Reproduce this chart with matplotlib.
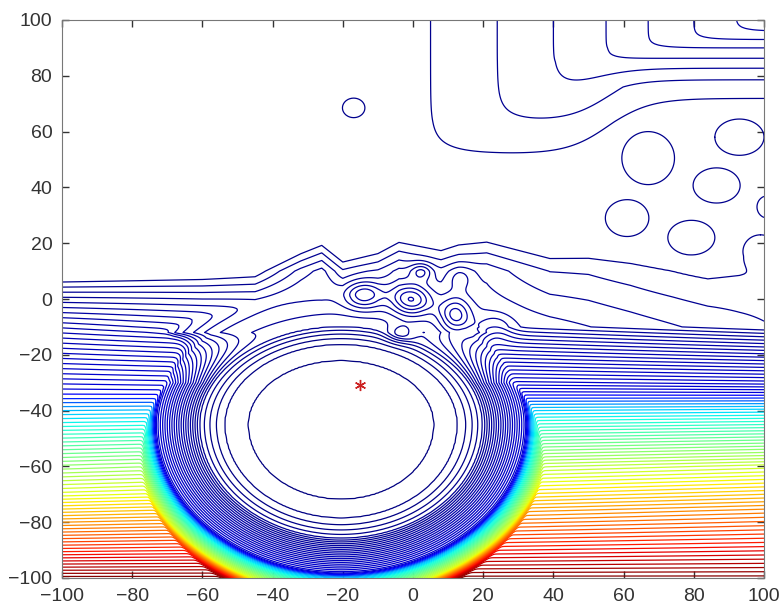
import numpy as np
import matplotlib.pyplot as plt

plt.rcParams['font.family'] = ['Liberation Sans', 'DejaVu Sans']

# level reached by the background field at the left / right edges
left_y = [7, -35, -45, -70, -90, -100]
left_lv = [0, 23, 30, 48, 65, 74]
right_y = [14, 4, -10, -30, -35, -40, -60, -76, -88, -100]
right_lv = [0, 0.8, 1.6, 18, 23, 28, 46, 58, 66, 74]

# how far the top edge of the background is pushed up along x
shift_x = [-100, -60, -45, -32, -26, -20, -10, -4, 8, 13, 21, 30, 39, 50, 62, 74, 84, 93, 100]
shift_y = [0, 1, 2, 10, 13, 7, 10, 14, 11, 13, 14, 11, 8, 8, 6, 3, 0, 1, 3]

# the big basin around the minimum: level vs normalised radius
bowl_x, bowl_y = -20.5, -45.0
bowl_ax, bowl_ay_top, bowl_ay_bot = 26.5, 23.0, 26.8
bowl_s = [0, 1, 1.25, 1.34, 1.41, 1.47, 1.52, 1.98, 2.09, 2.27, 2.36, 2.42, 3.5, 6]
bowl_lv = [-4.5, -3.5, -2.5, -1.5, -0.5, 0.5, 1.5, 20, 30, 48, 65, 74, 250, 800]
# the basin flattens towards its top (plateau under the cluster)
flat_y = [-100, -30, -12, 100]
flat_m = [1, 1, 0.12, 0.12]

# small local peaks around the origin
bump_x = [-14, -0.6, 12, -3.6, 2.4, 13.3, 23.4]
bump_y = [1.4, -0.4, -6, -12.4, 9.8, 7.7, -10.5]
bump_amp = [3.8, 4.5, 3.8, 2.2, 2.6, 1.6, 2.0]
bump_sx = [3.8, 3.9, 3.1, 2.8, 2.2, 2.8, 3.5]
bump_sy = [3.5, 3.9, 4.6, 2.3, 2.2, 3.2, 3.5]

# isolated rings (lattice on the right, lone ring up left): centre and radii
blob_x = [67, 61, 79.3, 86.5, 93, 101, 99, -16.9]
blob_y = [50.5, 29, 22, 40.7, 58, 33, 17, 68.5]
blob_rx = [7.5, 6.2, 6.7, 6.7, 7.0, 3.0, 5.0, 3.2]
blob_ry = [9.5, 6.6, 6.2, 6.3, 6.5, 4.0, 6.0, 3.5]

# ridge in the top right corner: level vs x along the top, level vs y along the right
ridge_x = [-100, -5, 5, 24, 40, 55, 67, 80, 92, 100]
ridge_xlv = [-5, -0.5, 0.5, 1.5, 2.5, 3.5, 4.5, 5.5, 6.5, 7.2]
ridge_y = [-100, 44, 52, 63.5, 74, 85, 90, 93, 96, 100]
ridge_ylv = [-5, -0.5, 0.5, 1.5, 2.5, 3.5, 4.5, 5.5, 6.5, 7.8]

# colour position (0..1 on jet) per level
col_lv = [-4, 22, 26, 30, 48, 65, 74]
col_c = [0.0, 0.08, 0.3, 0.375, 0.625, 0.875, 1.0]

star_x, star_y = -15, -31

x = np.linspace(-100, 100, 401)
y = np.linspace(-100, 100, 401)
X, Y = np.meshgrid(x, y)

# background: horizontal bands, blended between the two edge profiles
w = (X + 100) / 200
sh = np.interp(X, shift_x, shift_y) * np.clip((Y + 10) / 20, 0, 1)
Ys = Y - sh
FL = np.interp(-Ys, -np.array(left_y), left_lv)
FR = np.interp(-Ys, -np.array(right_y), right_lv)
F = (1 - w) * FL + w * FR

# basin
ay = np.where(Y > bowl_y, bowl_ay_top, bowl_ay_bot)
s = np.hypot((X - bowl_x) / bowl_ax, (Y - bowl_y) / ay)
B = np.interp(s, bowl_s, bowl_lv)
m = np.interp(Y, flat_y, flat_m)
B = np.where(s > 1.52, 1.5 + (B - 1.5) * m, B)

k = 0.8
Z = -k * np.logaddexp(-F / k, -B / k)

for bx, by, a, sx, sy in zip(bump_x, bump_y, bump_amp, bump_sx, bump_sy):
    Z += a * np.exp(-((X - bx) ** 2 / (2 * sx ** 2) + (Y - by) ** 2 / (2 * sy ** 2)))

for bx, by, rx, ry in zip(blob_x, blob_y, blob_rx, blob_ry):
    d2 = ((X - bx) / rx) ** 2 + ((Y - by) / ry) ** 2
    Z += np.exp(-np.log(2) * d2 ** 2)

P = np.interp(X, ridge_x, ridge_xlv)
Q = np.interp(Y, ridge_y, ridge_ylv)
Q = Q - 1.8 / (1 + np.exp(-(X - 56) / 6)) * np.clip((88 - Y) / 12, 0, 1)
kr = 0.4
T = -kr * np.logaddexp(-P / kr, -Q / kr)
Z += np.maximum(T, 0)

levels = np.arange(-3.5, 74, 1.0)
colors = plt.cm.jet(np.interp(levels, col_lv, col_c))

fig = plt.figure(figsize=(7.84, 6.09), dpi=100)
ax = fig.add_axes([62 / 784, 31 / 609, 702 / 784, 558 / 609])
ax.contour(X, Y, Z, levels=levels, colors=colors, linewidths=0.9)
ax.plot(star_x, star_y, marker=(6, 2, 0), color='#cc2020', ms=8, mew=1, ls='none')

ax.set_xlim(-100, 100)
ax.set_ylim(-100, 100)
ax.set_xticks(range(-100, 101, 20))
ax.set_yticks(range(-100, 101, 20))
ax.tick_params(direction='in', top=True, right=True, length=5, width=1,
               labelsize=14, colors='#333333', pad=7)
for sp in ax.spines.values():
    sp.set_color('#777777')

fig.savefig('out.png', dpi=100)
